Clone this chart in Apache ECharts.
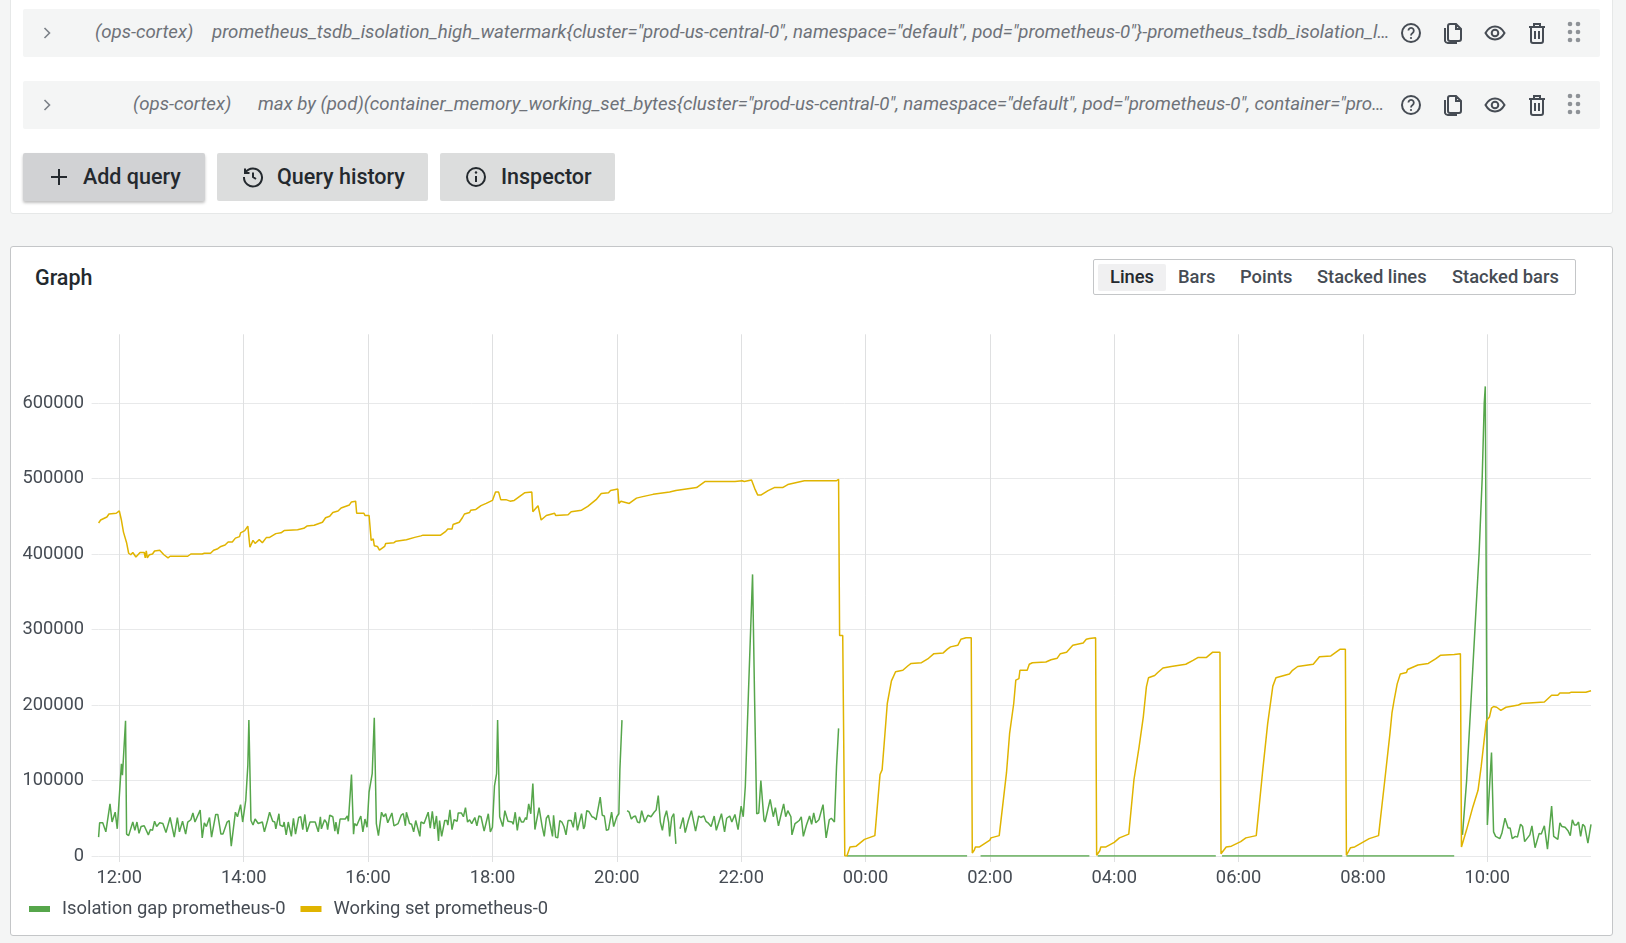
<!DOCTYPE html>
<html>
<head>
<meta charset="utf-8">
<title>Graph</title>
<script src="https://cdn.jsdelivr.net/npm/echarts@6/dist/echarts.min.js"></script>
<style>
  html, body { margin: 0; padding: 0; width: 1626px; height: 943px; overflow: hidden; background: #f4f5f5; font-family: Roboto, sans-serif; color: #464c54; }
  .abs { position: absolute; white-space: nowrap; }
  .panel { position: absolute; background: #fff; box-sizing: border-box; }
  .row { position: absolute; left: 23px; width: 1577px; height: 48px; background: #f4f5f5; border-radius: 2px; }
  .q { position: absolute; white-space: nowrap; font-style: italic; font-size: 18.67px; line-height: 24px; color: #6e7279; }
  .btn { position: absolute; top: 153px; height: 48px; background: #dcdddd; border-radius: 2px; }
  .btn span { position: absolute; top: 12px; font-size: 21.5px; line-height: 24px; font-weight: 500; color: #24292e; white-space: nowrap; }
  .btn svg { position: absolute; top: 12px; }
  .tg { position: absolute; top: 264px; font-size: 18.35px; line-height: 26px; font-weight: 500; color: #464c54; white-space: nowrap; }
  .ic { position: absolute; }
  #chart { position: absolute; left: 11px; top: 247px; width: 1601px; height: 688px; }
</style>
</head>
<body>
<div class="panel" style="left:10px;top:-4px;width:1603px;height:218px;border:1px solid #e6e8e8;border-radius:3px;"></div>
<div class="row" style="top:9px;"></div>
<div class="row" style="top:81px;"></div>

<svg class="ic" style="left:39px;top:25px" width="16" height="16" viewBox="0 0 16 16"><path d="M5.5 3 L10.5 8 L5.5 13" fill="none" stroke="#7b8087" stroke-width="1.6"/></svg>
<div class="q" style="left:95px;top:20px;">(ops-cortex)</div>
<div class="q" style="left:212px;top:20px;">prometheus_tsdb_isolation_high_watermark{cluster="prod-us-central-0", namespace="default", pod="prometheus-0"}-prometheus_tsdb_isolation_l…</div>

<svg class="ic" style="left:39px;top:97px" width="16" height="16" viewBox="0 0 16 16"><path d="M5.5 3 L10.5 8 L5.5 13" fill="none" stroke="#7b8087" stroke-width="1.6"/></svg>
<div class="q" style="left:133px;top:92px;">(ops-cortex)</div>
<div class="q" style="left:258px;top:92px;">max by (pod)(container_memory_working_set_bytes{cluster="prod-us-central-0", namespace="default", pod="prometheus-0", container="pro…</div>

<svg width="0" height="0" style="position:absolute">
  <defs>
    <g id="i-help"><circle cx="12" cy="12" r="9" fill="none" stroke="#464c54" stroke-width="2"/><path d="M9.4 9.6a2.7 2.7 0 1 1 4.2 2.3c-1 .7-1.6 1.2-1.6 2.5" fill="none" stroke="#464c54" stroke-width="1.8"/><circle cx="12" cy="17" r="1.1" fill="#464c54"/></g>
    <g id="i-copy"><path d="M9 3h6l5 5v10a2 2 0 0 1-2 2H9a2 2 0 0 1-2-2V5a2 2 0 0 1 2-2z M15 3v5h5 M4 7v13a3 3 0 0 0 3 2h9" fill="none" stroke="#464c54" stroke-width="2"/></g>
    <g id="i-eye"><path d="M2.5 12C5 7.5 8.5 5.5 12 5.5s7 2 9.5 6.5c-2.5 4.500-6 6.500-9.500 6.500S5 16.500 2.500 12z" fill="none" stroke="#464c54" stroke-width="2"/><circle cx="12" cy="12" r="3.300" fill="none" stroke="#464c54" stroke-width="2"/></g>
    <g id="i-trash"><path d="M4 6h16 M9 6V3h6v3 M6 6v14a2 2 0 0 0 2 2h8a2 2 0 0 0 2-2V6 M10 10v8 M14 10v8" fill="none" stroke="#464c54" stroke-width="2"/></g>
    <g id="i-grip" fill="#8e9297"><circle cx="8" cy="4" r="2.300"/><circle cx="16" cy="4" r="2.300"/><circle cx="8" cy="12" r="2.300"/><circle cx="16" cy="12" r="2.300"/><circle cx="8" cy="20" r="2.300"/><circle cx="16" cy="20" r="2.300"/></g>
  </defs>
</svg>
<svg class="ic" style="left:1399px;top:21px" width="24" height="24"><use href="#i-help"/></svg>
<svg class="ic" style="left:1441px;top:21px" width="24" height="24"><use href="#i-copy"/></svg>
<svg class="ic" style="left:1483px;top:21px" width="24" height="24"><use href="#i-eye"/></svg>
<svg class="ic" style="left:1525px;top:21px" width="24" height="24"><use href="#i-trash"/></svg>
<svg class="ic" style="left:1562px;top:20px" width="24" height="24"><use href="#i-grip"/></svg>
<svg class="ic" style="left:1399px;top:93px" width="24" height="24"><use href="#i-help"/></svg>
<svg class="ic" style="left:1441px;top:93px" width="24" height="24"><use href="#i-copy"/></svg>
<svg class="ic" style="left:1483px;top:93px" width="24" height="24"><use href="#i-eye"/></svg>
<svg class="ic" style="left:1525px;top:93px" width="24" height="24"><use href="#i-trash"/></svg>
<svg class="ic" style="left:1562px;top:92px" width="24" height="24"><use href="#i-grip"/></svg>

<div class="btn" style="left:23px;width:182px;background:#d1d2d4;box-shadow:0 2px 3px rgba(0,0,0,.25);">
  <svg style="left:24px" width="24" height="24" viewBox="0 0 24 24"><path d="M12 4v16 M4 12h16" stroke="#24292e" stroke-width="2" fill="none"/></svg>
  <span style="left:60px">Add query</span>
</div>
<div class="btn" style="left:217px;width:211px;">
  <svg style="left:24px" width="24" height="24" viewBox="0 0 24 24"><path d="M4.500 7.500A9 9 0 1 1 3 12 M4 3.500v4.500h4.500 M12 7.500V12l3 2" stroke="#24292e" stroke-width="2" fill="none"/></svg>
  <span style="left:60px">Query history</span>
</div>
<div class="btn" style="left:440px;width:175px;">
  <svg style="left:24px" width="24" height="24" viewBox="0 0 24 24"><circle cx="12" cy="12" r="9" stroke="#24292e" stroke-width="2" fill="none"/><path d="M12 11v6" stroke="#24292e" stroke-width="2"/><circle cx="12" cy="7.500" r="1.200" fill="#24292e"/></svg>
  <span style="left:61px">Inspector</span>
</div>

<div class="panel" style="left:10px;top:246px;width:1603px;height:690px;border:1px solid #c4c6c8;border-radius:3px;"></div>
<div class="abs" style="left:35px;top:265px;font-size:21.5px;line-height:26px;font-weight:500;color:#24292e;">Graph</div>
<div class="abs" style="left:1093px;top:259px;width:483px;height:36px;box-sizing:border-box;border:1px solid #c4c6c8;border-radius:2px;"></div>
<div class="abs" style="left:1098px;top:264px;width:68px;height:27px;background:#f0f0f1;border-radius:2px;"></div>
<div class="tg" style="left:1110px;color:#24292e;">Lines</div>
<div class="tg" style="left:1178px;">Bars</div>
<div class="tg" style="left:1240px;">Points</div>
<div class="tg" style="left:1317px;">Stacked lines</div>
<div class="tg" style="left:1452px;">Stacked bars</div>

<div id="chart"></div>

<script>
// 数据都是从图上读出来的：[距 11:40 的分钟数, 数值(千)]，null 表示断点
var xTickMinutes = [20, 140, 260, 380, 500, 620, 740, 860, 980, 1100, 1220, 1340];
var yTicks = [0, 100000, 200000, 300000, 400000, 500000, 600000];
var seriesNames = ['Isolation gap prometheus-0', 'Working set prometheus-0'];

var isolationGap = [
  [0,25],[1,44],[4,44],[6,36],[7,32],[11,69],[13,45],[16,58],[18,36],[22,122],[23,107],[26,179],[27,29],[29,27],
  [33,45],[35,34],[37,45],[39,30],[41,39],[44,40],[48,28],[50,35],[52,34],[54,46],[56,39],[59,44],[62,43],[65,31],
  [69,51],[73,25],[76,51],[78,32],[81,46],[84,29],[86,45],[89,48],[91,57],[93,45],[98,61],[100,24],[102,44],[104,39],
  [107,51],[109,25],[113,55],[115,55],[118,29],[120,29],[124,45],[126,47],[128,13],[132,58],[134,52],[137,68],[139,45],
  [142,74],[144,120],[145,180],[147,47],[149,41],[151,49],[154,43],[158,45],[160,32],[163,47],[165,58],[168,46],[170,45],
  [171,36],[174,56],[175,41],[178,39],[179,45],[181,28],[183,45],[186,26],[188,50],[190,29],[193,51],[195,52],[197,35],
  [199,55],[201,32],[204,45],[209,45],[212,32],[214,52],[215,36],[218,48],[220,44],[221,35],[223,54],[226,52],[228,33],
  [229,45],[231,29],[233,49],[238,49],[240,53],[241,46],[244,108],[246,29],[247,43],[249,40],[253,53],[255,32],[257,49],
  [259,38],[261,85],[264,109],[266,183],[268,43],[270,27],[273,58],[275,52],[277,56],[279,44],[283,57],[285,40],[289,43],
  [292,54],[294,56],[296,40],[297,58],[300,43],[302,42],[304,32],[306,47],[307,47],[310,26],[311,45],[314,43],[318,58],
  [320,37],[322,59],[324,36],[326,53],[328,20],[329,47],[331,26],[334,47],[336,47],[337,41],[339,61],[341,35],[343,48],
  [346,46],[347,57],[350,57],[352,52],[354,64],[356,45],[358,48],[360,43],[363,51],[365,40],[367,53],[369,52],[372,33],
  [376,56],[378,32],[380,38],[382,93],[384,109],[385,180],[387,52],[390,39],[392,60],[393,58],[395,46],[399,45],[400,42],
  [402,58],[404,34],[406,52],[408,45],[410,45],[412,51],[413,48],[415,69],[417,56],[419,96],[421,35],[425,64],[428,39],
  [430,26],[432,50],[434,54],[436,40],[438,26],[439,54],[441,25],[443,24],[445,47],[447,45],[449,39],[451,28],[453,47],
  [456,47],[458,38],[460,58],[462,34],[466,56],[468,36],[469,39],[471,60],[473,59],[476,52],[478,51],[480,48],[484,78],
  [486,54],[488,53],[490,34],[492,35],[495,58],[497,39],[500,52],[502,56],[503,115],[505,180],[506,null],[510,60],[512,58],
  [514,49],[516,52],[518,53],[520,45],[522,44],[524,60],[527,45],[530,54],[531,56],[533,52],[536,58],[538,61],[540,80],
  [542,45],[544,34],[546,51],[548,60],[550,45],[551,26],[553,51],[555,56],[557,16],[558,null],[561,36],[564,51],[566,31],
  [569,47],[572,60],[576,33],[579,53],[581,51],[584,53],[586,46],[588,44],[591,39],[594,53],[596,34],[601,56],[602,57],
  [604,32],[606,50],[607,48],[609,53],[611,45],[614,55],[617,35],[620,66],[622,52],[624,92],[627,215],[631,373],[633,205],
  [635,56],[637,57],[639,100],[642,48],[643,45],[648,75],[651,52],[653,64],[656,40],[658,52],[661,69],[663,52],[665,60],
  [668,52],[669,28],[672,43],[674,45],[676,47],[678,52],[680,26],[683,41],[686,53],[688,42],[690,57],[692,44],[695,48],
  [699,68],[702,24],[705,48],[707,50],[710,45],[712,118],[714,169],[716,null],[722,0],[838,0],[845,null],[851,0],[956,0],
  [960,null],[964,0],[1078,0],[1081,null],[1084,0],[1200,0],[1202,null],[1204,0],[1308,0],[1312,null],[1316,28],[1320,100],
  [1324,200],[1328,300],[1332,400],[1335,500],[1337,600],[1338,622],[1339,335],[1340,41],[1344,137],[1346,32],[1348,26],[1349,26],
  [1352,23],[1354,30],[1355,30],[1357,50],[1360,37],[1362,37],[1364,23],[1367,26],[1369,25],[1372,42],[1374,39],[1376,19],
  [1381,28],[1383,40],[1386,11],[1390,30],[1392,29],[1395,40],[1398,9],[1402,66],[1404,26],[1408,22],[1410,44],[1412,39],
  [1415,38],[1418,33],[1420,27],[1422,48],[1424,41],[1426,41],[1428,45],[1430,26],[1432,42],[1434,39],[1437,17],[1440,42]
];

var workingSet = [
  [0,441],[2,445],[8,449],[10,453],[17,454],[20,457],[22,445],[24,429],[27,415],[29,401],[31,399],[33,402],[36,396],[40,402],
  [44,402],[45,395],[46,404],[47,395],[49,399],[52,400],[54,404],[59,405],[63,399],[67,395],[69,397],[86,397],[89,400],[100,400],
  [102,401],[108,401],[111,405],[115,407],[118,410],[122,412],[125,416],[129,416],[132,421],[136,423],[137,428],[141,431],
  [144,437],[146,409],[149,418],[151,414],[155,419],[158,415],[162,422],[165,422],[171,427],[176,428],[179,431],[192,432],
  [198,434],[201,437],[208,438],[216,442],[219,448],[223,450],[226,455],[231,457],[234,461],[242,465],[244,469],[248,470],
  [249,454],[256,454],[257,451],[261,451],[263,418],[265,420],[266,411],[269,410],[271,405],[276,410],[277,414],[285,415],
  [287,417],[297,419],[305,422],[306,424],[311,424],[313,425],[330,425],[335,430],[337,433],[341,433],[342,439],[348,442],
  [351,448],[353,453],[358,455],[359,458],[364,459],[369,464],[374,467],[380,471],[383,482],[386,482],[388,472],[393,472],
  [397,470],[401,471],[406,476],[411,481],[418,482],[419,456],[424,464],[427,445],[432,451],[440,454],[441,451],[453,452],
  [456,456],[466,458],[472,463],[480,472],[485,480],[492,481],[494,484],[501,486],[502,467],[504,470],[512,467],[519,474],
  [525,476],[535,479],[551,482],[557,484],[577,488],[585,496],[614,496],[621,497],[623,496],[630,498],[633,487],[636,478],
  [639,478],[646,484],[652,488],[660,488],[665,492],[681,497],[712,497],[714,499],[715,292],[718,292],[720,0],[722,0],
  [725,12],[731,13],[739,22],[747,26],[749,27],[754,108],[756,114],[758,149],[761,202],[765,232],[766,235],[769,244],
  [776,246],[781,252],[784,255],[794,256],[800,261],[806,268],[815,269],[819,274],[822,277],[829,279],[832,287],[837,289],
  [842,289],[843,4],[845,8],[846,12],[850,12],[860,21],[861,24],[869,27],[876,110],[879,162],[883,202],[885,233],[888,235],
  [889,246],[896,246],[898,254],[901,256],[914,257],[919,260],[925,262],[928,268],[934,270],[940,279],[950,282],[953,287],
  [956,288],[962,289],[963,1],[966,7],[967,12],[972,12],[980,18],[985,24],[994,29],[999,101],[1004,145],[1008,184],
  [1011,224],[1013,236],[1019,239],[1022,243],[1027,249],[1035,251],[1049,254],[1056,259],[1061,263],[1069,263],[1075,270],
  [1082,270],[1083,3],[1088,12],[1093,13],[1102,19],[1107,24],[1117,27],[1123,110],[1128,175],[1133,225],[1136,236],
  [1149,241],[1152,246],[1157,251],[1172,254],[1178,264],[1189,265],[1198,274],[1203,274],[1204,1],[1208,11],[1212,12],
  [1226,23],[1235,27],[1241,100],[1246,162],[1248,190],[1250,206],[1253,228],[1256,241],[1262,243],[1263,247],[1273,253],
  [1283,255],[1290,261],[1295,266],[1308,267],[1314,268],[1315,12],[1320,35],[1326,65],[1331,87],[1334,118],[1339,179],
  [1342,184],[1344,196],[1346,198],[1349,197],[1353,193],[1358,197],[1370,200],[1373,202],[1384,203],[1395,204],[1402,213],
  [1408,213],[1410,216],[1419,216],[1421,217],[1435,217],[1440,219]
];

(function(){
  var startTime = Date.UTC(2022, 0, 1, 11, 40);
  function toTime(m){ return startTime + m * 60000; }
  function toSeries(list){
    return list.map(function(p){
      return [toTime(p[0]), p[1] === null ? null : p[1] * 1000];
    });
  }
  function pad(n){ return (n < 10 ? '0' : '') + n; }
  var xTicks = xTickMinutes.map(toTime);

  var myChart = echarts.init(document.getElementById('chart'));
  var option = {
    animation: false,
    tooltip: { trigger: 'axis' },
    legend: {
      left: 18,
      top: 653,
      icon: 'rect',
      itemWidth: 21,
      itemHeight: 6,
      itemGap: 15,
      padding: 0,
      selectedMode: false,
      textStyle: { fontFamily: 'Roboto', fontSize: 18.35, color: '#464c54', padding: [0, 0, 0, 7] }
    },
    grid: { left: 87.6, right: 21, top: 87.3, bottom: 79 },
    xAxis: {
      // time 轴配 customValues 会报错，这里用 value 轴放时间戳
      type: 'value',
      min: toTime(0),
      max: toTime(1440),
      axisLine: { show: false },
      axisTick: { show: true, length: 6, customValues: xTicks, lineStyle: { color: '#dfe0e1', width: 1 } },
      axisLabel: {
        customValues: xTicks,
        margin: 13,
        fontFamily: 'Roboto',
        fontSize: 18.3,
        color: '#464c54',
        formatter: function(v){
          var d = new Date(v);
          return pad(d.getUTCHours()) + ':' + pad(d.getUTCMinutes());
        }
      },
      splitLine: { show: true, lineStyle: { color: '#dfe0e1', width: 1 } }
    },
    yAxis: {
      type: 'value',
      min: 0,
      max: 691000,
      interval: 100000,
      axisLine: { show: false },
      axisTick: { show: true, length: 7, customValues: yTicks, lineStyle: { color: '#e8e9ea', width: 1 } },
      axisLabel: {
        customValues: yTicks,
        margin: 14.5,
        fontFamily: 'Roboto',
        fontSize: 18.3,
        color: '#464c54',
        formatter: function(v){ return String(v); }
      },
      splitLine: { show: true, lineStyle: { color: '#e8e9ea', width: 1 } }
    },
    series: [
      {
        name: seriesNames[0],
        type: 'line',
        data: toSeries(isolationGap),
        showSymbol: false,
        connectNulls: false,
        color: '#56a64b',
        lineStyle: { width: 1.5 }
      },
      {
        name: seriesNames[1],
        type: 'line',
        data: toSeries(workingSet),
        showSymbol: false,
        color: '#e0b400',
        lineStyle: { width: 1.5 }
      }
    ]
  };
  myChart.setOption(option);
  window.addEventListener('resize', function(){ myChart.resize(); });
})();
</script>
</body>
</html>
